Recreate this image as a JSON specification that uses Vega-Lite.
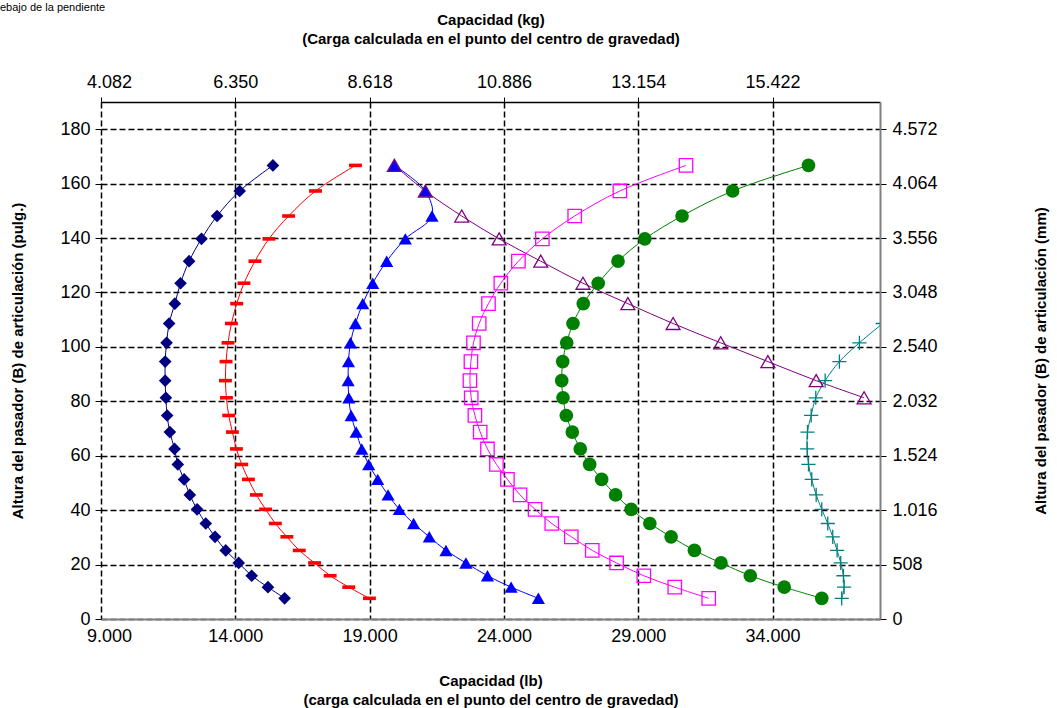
{
 "$schema": "https://vega.github.io/schema/vega-lite/v6.json",
 "width": 779, "height": 517,
 "autosize": {"type": "none"},
 "padding": {"left": 101, "top": 102, "right": 177, "bottom": 89},
 "background": "white",
 "config": {
  "font": "Liberation Sans",
  "view": {"stroke": null},
  "axis": {"labelFont": "Liberation Sans", "titleFont": "Liberation Sans", "labelColor": "black", "titleColor": "black", "labelFontSize": 18, "titleFontSize": 15, "titleFontWeight": "bold", "labelFlush": false, "labelOverlap": false, "titleLineHeight": 19}
 },
 "title": {"text": "ebajo de la pendiente", "anchor": "start", "frame": "group", "fontSize": 11, "fontWeight": "normal", "font": "Liberation Sans", "color": "black", "dx": -101, "offset": -1},
 "datasets": {
  "pts": [
   {"s":"A","x":15400,"y":166.7},{"s":"A","x":14163,"y":157.3},{"s":"A","x":13320,"y":148.1},{"s":"A","x":12741,"y":139.7},{"s":"A","x":12280,"y":131.5},{"s":"A","x":11961,"y":123.4},{"s":"A","x":11749,"y":115.9},{"s":"A","x":11537,"y":108.6},{"s":"A","x":11441,"y":101.5},{"s":"A","x":11389,"y":94.6},{"s":"A","x":11389,"y":87.6},{"s":"A","x":11415,"y":81.3},{"s":"A","x":11463,"y":74.8},{"s":"A","x":11563,"y":68.7},{"s":"A","x":11738,"y":62.5},{"s":"A","x":11860,"y":56.8},{"s":"A","x":12094,"y":51.3},{"s":"A","x":12306,"y":45.6},{"s":"A","x":12577,"y":40.3},{"s":"A","x":12900,"y":35.1},{"s":"A","x":13246,"y":30.2},{"s":"A","x":13643,"y":25.2},{"s":"A","x":14126,"y":20.6},{"s":"A","x":14609,"y":15.9},{"s":"A","x":15215,"y":11.7},{"s":"A","x":15835,"y":7.6},
   {"s":"B","x":18473,"y":166.7},{"s":"B","x":16986,"y":157.3},{"s":"B","x":15984,"y":148.1},{"s":"B","x":15252,"y":139.7},{"s":"B","x":14732,"y":131.5},{"s":"B","x":14323,"y":123.4},{"s":"B","x":14052,"y":115.9},{"s":"B","x":13855,"y":108.6},{"s":"B","x":13729,"y":101.5},{"s":"B","x":13655,"y":94.6},{"s":"B","x":13632,"y":87.6},{"s":"B","x":13669,"y":81.3},{"s":"B","x":13755,"y":74.8},{"s":"B","x":13892,"y":68.7},{"s":"B","x":14041,"y":62.5},{"s":"B","x":14238,"y":56.8},{"s":"B","x":14487,"y":51.3},{"s":"B","x":14784,"y":45.6},{"s":"B","x":15129,"y":40.3},{"s":"B","x":15490,"y":35.1},{"s":"B","x":15921,"y":30.2},{"s":"B","x":16381,"y":25.2},{"s":"B","x":16949,"y":20.6},{"s":"B","x":17532,"y":15.9},{"s":"B","x":18224,"y":11.7},{"s":"B","x":18993,"y":7.6},
   {"s":"C","x":19921,"y":166.7},{"s":"C","x":21073,"y":157.3},{"s":"C","x":21321,"y":148.1},{"s":"C","x":20330,"y":139.7},{"s":"C","x":19636,"y":131.5},{"s":"C","x":19115,"y":123.4},{"s":"C","x":18744,"y":115.9},{"s":"C","x":18473,"y":108.6},{"s":"C","x":18287,"y":101.5},{"s":"C","x":18213,"y":94.6},{"s":"C","x":18201,"y":87.6},{"s":"C","x":18225,"y":81.3},{"s":"C","x":18313,"y":74.8},{"s":"C","x":18499,"y":68.7},{"s":"C","x":18707,"y":62.5},{"s":"C","x":18967,"y":56.8},{"s":"C","x":19301,"y":51.3},{"s":"C","x":19687,"y":45.6},{"s":"C","x":20107,"y":40.3},{"s":"C","x":20638,"y":35.1},{"s":"C","x":21221,"y":30.2},{"s":"C","x":21842,"y":25.2},{"s":"C","x":22585,"y":20.6},{"s":"C","x":23387,"y":15.9},{"s":"C","x":24268,"y":11.7},{"s":"C","x":25282,"y":7.6},
   {"s":"D","x":30779,"y":166.7},{"s":"D","x":28316,"y":157.3},{"s":"D","x":26634,"y":148.1},{"s":"D","x":25431,"y":139.7},{"s":"D","x":24539,"y":131.5},{"s":"D","x":23885,"y":123.4},{"s":"D","x":23425,"y":115.9},{"s":"D","x":23079,"y":108.6},{"s":"D","x":22867,"y":101.5},{"s":"D","x":22771,"y":94.6},{"s":"D","x":22734,"y":87.6},{"s":"D","x":22782,"y":81.3},{"s":"D","x":22919,"y":74.8},{"s":"D","x":23116,"y":68.7},{"s":"D","x":23387,"y":62.5},{"s":"D","x":23722,"y":56.8},{"s":"D","x":24130,"y":51.3},{"s":"D","x":24602,"y":45.6},{"s":"D","x":25159,"y":40.3},{"s":"D","x":25780,"y":35.1},{"s":"D","x":26508,"y":30.2},{"s":"D","x":27288,"y":25.2},{"s":"D","x":28194,"y":20.6},{"s":"D","x":29208,"y":15.9},{"s":"D","x":30360,"y":11.7},{"s":"D","x":31623,"y":7.6},
   {"s":"E","x":35337,"y":166.7},{"s":"E","x":32514,"y":157.3},{"s":"E","x":30631,"y":148.1},{"s":"E","x":29245,"y":139.7},{"s":"E","x":28247,"y":131.5},{"s":"E","x":27510,"y":123.4},{"s":"E","x":26954,"y":115.9},{"s":"E","x":26571,"y":108.6},{"s":"E","x":26337,"y":101.5},{"s":"E","x":26188,"y":94.6},{"s":"E","x":26151,"y":87.6},{"s":"E","x":26199,"y":81.3},{"s":"E","x":26322,"y":74.8},{"s":"E","x":26545,"y":68.7},{"s":"E","x":26842,"y":62.5},{"s":"E","x":27191,"y":56.8},{"s":"E","x":27637,"y":51.3},{"s":"E","x":28157,"y":45.6},{"s":"E","x":28737,"y":40.3},{"s":"E","x":29432,"y":35.1},{"s":"E","x":30223,"y":30.2},{"s":"E","x":31092,"y":25.2},{"s":"E","x":32080,"y":20.6},{"s":"E","x":33172,"y":15.9},{"s":"E","x":34435,"y":11.7},{"s":"E","x":35832,"y":7.6},
   {"s":"F","x":19921,"y":166.7},{"s":"F","x":21073,"y":157.3},{"s":"F","x":22429,"y":148.1},{"s":"F","x":23822,"y":139.7},{"s":"F","x":25371,"y":131.5},{"s":"F","x":26942,"y":123.4},{"s":"F","x":28614,"y":115.9},{"s":"F","x":30297,"y":108.6},{"s":"F","x":32069,"y":101.5},{"s":"F","x":33826,"y":94.6},{"s":"F","x":35624,"y":87.6},{"s":"F","x":37407,"y":81.3},
   {"s":"G","x":38100,"y":108.6},{"s":"G","x":37233,"y":101.5},{"s":"G","x":36489,"y":94.6},{"s":"G","x":35958,"y":87.6},{"s":"G","x":35609,"y":81.3},{"s":"G","x":35438,"y":74.8},{"s":"G","x":35300,"y":68.7},{"s":"G","x":35289,"y":62.5},{"s":"G","x":35338,"y":56.8},{"s":"G","x":35460,"y":51.3},{"s":"G","x":35624,"y":45.6},{"s":"G","x":35832,"y":40.3},{"s":"G","x":36055,"y":35.1},{"s":"G","x":36241,"y":30.2},{"s":"G","x":36404,"y":25.2},{"s":"G","x":36538,"y":20.6},{"s":"G","x":36638,"y":15.9},{"s":"G","x":36664,"y":11.7},{"s":"G","x":36575,"y":7.6}
  ]
 },
 "data": {"name": "pts"},
 "resolve": {"axis": {"x": "independent", "y": "independent"}},
 "layer": [
  {
   "mark": {"type": "line", "interpolate": "catmull-rom", "strokeWidth": 1, "clip": true},
   "encoding": {
    "x": {"field": "x", "type": "quantitative", "scale": {"domain": [9000, 38000], "nice": false, "zero": false},
     "axis": {"orient": "bottom", "values": [9000, 14000, 19000, 24000, 29000, 34000], "labelExpr": "replace(format(datum.value, ','), ',', '.')", "labelOffset": {"condition": {"test": "datum.value == 9000", "value": 8}, "value": 0}, "grid": true, "gridColor": "black", "gridDash": [6, 3], "gridWidth": 1.5, "domainColor": "#808080", "domainWidth": 2, "ticks": false, "labelPadding": 8, "title": ["Capacidad (lb)", "(carga calculada en el punto del centro de gravedad)"], "titlePadding": 28}},
    "y": {"field": "y", "type": "quantitative", "scale": {"domain": [0, 190], "nice": false, "zero": false},
     "axis": {"orient": "left", "values": [0, 20, 40, 60, 80, 100, 120, 140, 160, 180], "grid": true, "gridColor": "black", "gridDash": [6, 3], "gridWidth": 1.5, "domain": false, "ticks": true, "tickColor": "black", "tickSize": 6, "labelPadding": 5, "title": "Altura del pasador (B) de articulación (pulg.)", "titlePadding": 34}},
    "color": {"field": "s", "type": "nominal", "scale": {"domain": ["A", "B", "C", "D", "E", "F", "G"], "range": ["#000080", "#FF0000", "#0000FF", "#FF00FF", "#008000", "#800080", "#008080"]}, "legend": null},
    "order": {"field": "y", "type": "quantitative"}
   }
  },
  {
   "transform": [{"filter": {"field": "s", "oneOf": ["A", "B", "C", "E"]}}],
   "mark": {"type": "point", "filled": true, "opacity": 1, "clip": true},
   "encoding": {
    "x": {"field": "x", "type": "quantitative",
     "axis": {"orient": "top", "values": [9000, 14000, 19000, 24000, 29000, 34000], "labelExpr": "replace(format(datum.value / 2.20462, ',.0f'), ',', '.')", "labelOffset": {"condition": {"test": "datum.value == 9000", "value": 8}, "value": 0}, "grid": false, "domainColor": "black", "domainWidth": 1.5, "ticks": true, "tickColor": "black", "tickSize": 5, "labelPadding": 6, "title": ["Capacidad (kg)", "(Carga calculada en el punto del centro de gravedad)"], "titlePadding": 27}},
    "y": {"field": "y", "type": "quantitative",
     "axis": {"orient": "right", "values": [0, 20, 40, 60, 80, 100, 120, 140, 160, 180], "labelExpr": "replace(format(datum.value * 25.4, ',.0f'), ',', '.')", "grid": false, "domainColor": "#808080", "domainWidth": 2, "ticks": true, "tickColor": "black", "tickSize": 6, "labelPadding": 6, "title": "Altura del pasador (B) de articulación (mm)", "titleAngle": 270, "titleBaseline": "bottom", "titlePadding": 111}},
    "color": {"field": "s", "type": "nominal", "legend": null},
    "shape": {"field": "s", "type": "nominal", "scale": {"domain": ["A", "B", "C", "D", "E", "F", "G"], "range": ["diamond", "M-1,-0.28H1V0.28H-1Z", "triangle-up", "square", "circle", "triangle-up", "M-1,0H1M0,-1V1"]}, "legend": null},
    "size": {"field": "s", "type": "nominal", "scale": {"domain": ["A", "B", "C", "D", "E", "F", "G"], "range": [160, 200, 170, 160, 160, 180, 180]}, "legend": null}
   }
  },
  {
   "transform": [{"filter": {"field": "s", "oneOf": ["D", "F", "G"]}}],
   "mark": {"type": "point", "filled": false, "opacity": 1, "strokeWidth": 1.3, "clip": true},
   "encoding": {
    "x": {"field": "x", "type": "quantitative", "axis": null},
    "y": {"field": "y", "type": "quantitative", "axis": null},
    "color": {"field": "s", "type": "nominal", "legend": null},
    "shape": {"field": "s", "type": "nominal", "legend": null},
    "size": {"field": "s", "type": "nominal", "legend": null}
   }
  }
 ]
}
